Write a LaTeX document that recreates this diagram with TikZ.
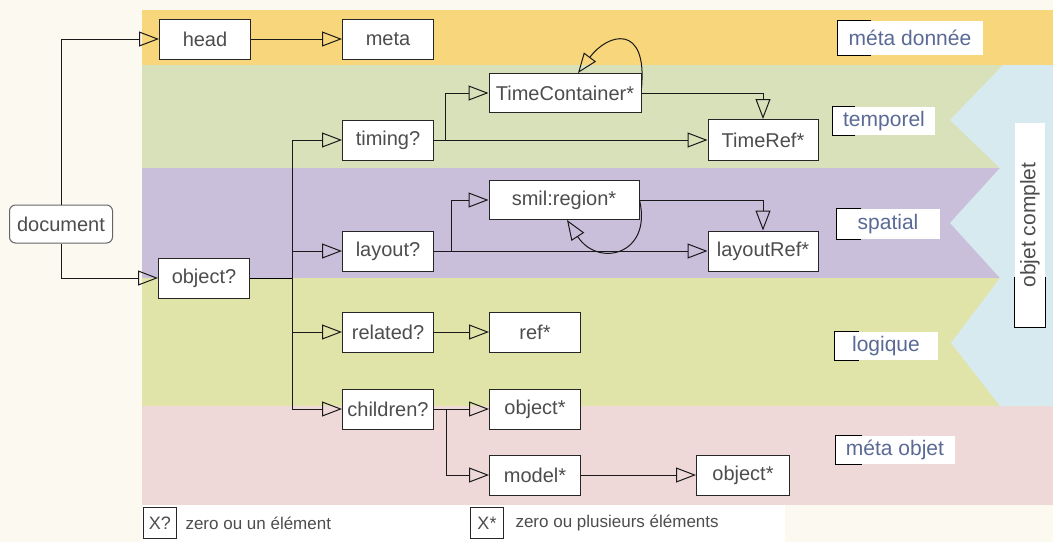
\documentclass[tikz,border=0pt]{standalone}
\usepackage{fontspec}
\setmainfont{Liberation Sans}
\usetikzlibrary{arrows.meta, positioning, calc}

\definecolor{cream}{HTML}{FCF9F1}
\definecolor{bandorange}{HTML}{F8D67B}
\definecolor{bandgreen}{HTML}{D9E1BA}
\definecolor{bandpurple}{HTML}{C9BFDA}
\definecolor{bandolive}{HTML}{E1E4A9}
\definecolor{bandpink}{HTML}{EED9D8}
\definecolor{bandsky}{HTML}{D7EAF0}
\definecolor{boxtext}{HTML}{4D4D4D}
\definecolor{layertext}{HTML}{5A6A95}

\begin{document}
\begin{tikzpicture}[x=1pt,y=-1pt,on grid,>={Triangle[open,length=20pt,width=15pt]},
      every node/.style={font=\fontsize{20}{24}\selectfont, text=boxtext},
      box/.style={draw=black!85, fill=white, line width=1pt, minimum width=91pt, minimum height=40pt, inner sep=2pt},
      layer/.style={fill=white, text=layertext, font=\fontsize{21}{25}\selectfont, minimum height=28pt, inner sep=3pt},
      keybox/.style={draw=black!85, fill=white, line width=1pt, minimum width=33pt, minimum height=31pt, inner sep=1pt, font=\fontsize{18}{20}\selectfont},
      link/.style={->, line width=1pt, draw=black!90}]
      \useasboundingbox (0,0) rectangle (1053,542);
      % bands
      \fill[cream] (0,0) rectangle (1053,542);
      \fill[bandorange] (142,10) rectangle (1053,65);
      \fill[bandgreen] (142,65) rectangle (1053,168);
      \fill[bandpurple] (142,168) rectangle (1053,278);
      \fill[bandolive] (142,278) rectangle (1053,406);
      \fill[bandpink] (142,406) rectangle (1053,505);
      \fill[bandsky] (1003,65) -- (950,120) -- (1000,168) -- (950,223) -- (1000,278)
        -- (951,343) -- (1000,406) -- (1053,406) -- (1053,65) -- cycle;
      \fill[white] (142,505) rectangle (785,542);

      % tree
      \node[box, rounded corners=6pt, draw=black!60, minimum width=103pt, minimum height=38pt] (document) at (61,224) {document};
      \node[box] (head) at (205,39) {head};
      \node[box] (meta) [right=183pt of head] {meta};
      \node[box] (object) at (204,278) {object?};
      \node[box] (timing) at (388,140) {timing?};
      \node[box] (layout) [below=111pt of timing] {layout?};
      \node[box] (related) [below=81pt of layout] {related?};
      \node[box] (children) [below=77pt of related] {children?};
      \node[box, minimum width=152pt, minimum height=39pt] (timecont) at (565,93) {TimeContainer*};
      \node[box, minimum width=110pt, minimum height=41pt] (timeref) at (763,140) {TimeRef*};
      \node[box, minimum width=150pt, minimum height=39pt] (region) at (564,200) {smil:region*};
      \node[box, minimum width=110pt] (layoutref) [below=111pt of timeref] {layoutRef*};
      \node[box] (ref) [right=147pt of related] {ref*};
      \node[box] (childobj) [right=147pt of children] {object*};
      \node[box] (model) [below=66pt of childobj] {model*};
      \node[box, minimum width=93pt] (modelobj) [right=208pt of model] {object*};

      \coordinate (fork) at (292,278);
      \coordinate (tfork) at (445,140);
      \coordinate (lfork) at (451,251);
      \coordinate (cfork) at (446,409);

      \draw[link] (document) |- (head);
      \draw[link] (head) -- (meta);
      \draw[link] (document) |- (object);
      \draw[line width=1pt] (object) -- (fork);
      \draw[link] (fork) |- (timing);
      \draw[link] (fork) |- (layout);
      \draw[link] (fork) |- (related);
      \draw[link] (fork) |- (children);
      \draw[link] (timing) -- (timeref);
      \draw[link] (tfork) |- (timecont);
      \draw[link] (timecont) -| (timeref);
      \draw[link] ([yshift=5pt]timecont.east) .. controls +(6,-65) and +(30,-40) .. ([xshift=13pt]timecont.north);
      \draw[link] (layout) -- (layoutref);
      \draw[link] (lfork) |- (region);
      \draw[link] (region) -| (layoutref);
      \draw[link] (region.east) .. controls +(13,55) and +(31,48) .. ([xshift=3pt]region.south);
      \draw[link] (related) -- (ref);
      \draw[link] (children) -- (childobj);
      \draw[link] (cfork) |- (model);
      \draw[link] (model) -- (modelobj);

      % layers
      \node[layer, minimum width=145pt, minimum height=34pt] (ldata) at (910,38) {méta donnée};
      \node[layer, minimum width=102pt] (ltime) at (884,121) {temporel};
      \node[layer, minimum width=103pt, minimum height=30pt] (lspace) at (888,224) {spatial};
      \node[layer, minimum width=103pt] (llogic) at (886,346) {logique};
      \node[layer, minimum width=119pt] (lmeta) at (895,450) {méta objet};
      \node[layer, text=boxtext, rotate=90, minimum width=204pt, minimum height=30pt] (lwhole) at (1030,225) {objet complet};
      \foreach \n/\t in {ldata/34, ltime/22, lspace/25, llogic/25, lmeta/27, lwhole/50}
        \draw[line width=1.2pt] ($(\n.north west)!\t pt!(\n.north east)$) -- (\n.north west)
          -- (\n.south west) -- ($(\n.south west)!\t pt!(\n.south east)$);

      % legend
      \node[keybox] (kone) at (160,523) {X?};
      \node[anchor=west, font=\fontsize{17}{20}\selectfont] (tone) at (182,523) {zero ou un élément};
      \node[keybox] (kmany) at (487,523) {X*};
      \node[anchor=west, font=\fontsize{17}{20}\selectfont] (tmany) at (512,523) {zero ou plusieurs éléments};
    \end{tikzpicture}
\end{document}
